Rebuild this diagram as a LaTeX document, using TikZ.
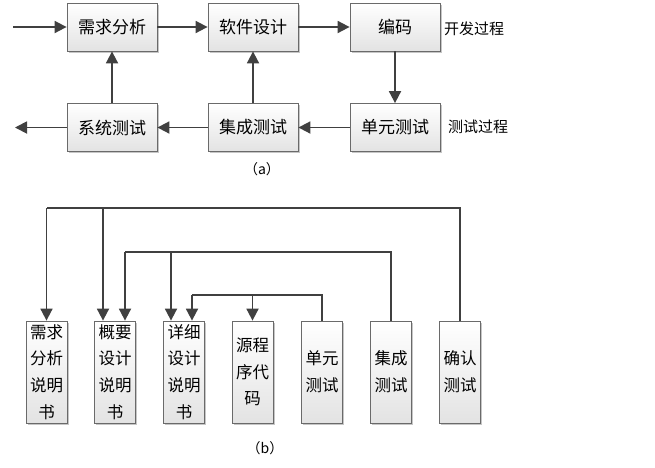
\documentclass[tikz,border=0pt]{standalone}
\usepackage{fontspec}
\setmainfont{Noto Sans CJK SC}
\usetikzlibrary{arrows.meta,shadows,calc}
\definecolor{linegray}{HTML}{404040}
\definecolor{boxgray}{HTML}{6A6A6A}
\tikzset{
  stagebox/.style={draw=boxgray,line width=0.8pt,top color=white,bottom color=gray!22,
    drop shadow={shadow xshift=1.5pt,shadow yshift=-1.5pt,fill=gray!45,opacity=1},
    minimum width=90pt,minimum height=48pt,inner sep=0pt,
    font=\fontsize{17}{20}\selectfont},
  docbox/.style={draw=boxgray,line width=0.8pt,top color=white,bottom color=gray!22,
    drop shadow={shadow xshift=1.5pt,shadow yshift=-1.5pt,fill=gray!45,opacity=1},
    minimum width=41pt,minimum height=102pt,inner sep=0pt,align=center,
    font=\fontsize{16.5}{26.7}\selectfont},
  flow/.style={draw=linegray,line width=1.8pt,-{Triangle[length=12pt,width=12pt]}},
  link/.style={draw=linegray,line width=1.8pt}
}
\begin{document}
\begin{tikzpicture}[x=1pt,y=-1pt]
	\useasboundingbox (0,0) rectangle (655,467);
	
	% (a) stages
	\node[stagebox] (req)  at (112,27)    {需求分析};
	\node[stagebox] (des)  at (253,27)    {软件设计};
	\node[stagebox] (code) at (395,27)    {编码};
	\node[stagebox] (sys)  at (112,127.5) {系统测试};
	\node[stagebox] (integ) at (253,127.5) {集成测试};
	\node[stagebox] (unit) at (395,127.5) {单元测试};
	\coordinate (in)  at (13,27);
	\coordinate (out) at (15,127.5);
	
	% (a) process labels
	\node[font=\fontsize{15}{18}\selectfont] (devlab)  at (474,29)  {开发过程};
	\node[font=\fontsize{15}{18}\selectfont] (testlab) at (478,127) {测试过程};
	\node[font=\fontsize{14}{18}\selectfont] (capa) at (262,169) {（a）};
	
	% (a) arrows
	\draw[flow] (in) -- (req);
	\draw[flow] (req) -- (des);
	\draw[flow] (des) -- (code);
	\draw[flow] (code) -- (unit);
	\draw[flow] (unit) -- (integ);
	\draw[flow] (integ) -- (sys);
	\draw[flow] (sys) -- (out);
	\draw[flow] (integ) -- (des);
	\draw[flow] (sys) -- (req);
	
	% (b) documents
	\node[docbox] (d1) at (46.5,372) {需求\\分析\\说明\\书};
	\node[docbox] (d2) at (115,372)  {概要\\设计\\说明\\书};
	\node[docbox] (d3) at (184,372)  {详细\\设计\\说明\\书};
	\node[docbox] (d4) at (252.5,372) {源程\\序代\\码};
	\node[docbox] (d5) at (322,372)  {单元\\测试};
	\node[docbox] (d6) at (391,372)  {集成\\测试};
	\node[docbox] (d7) at (460,372)  {确认\\测试};
	\node[font=\fontsize{14}{18}\selectfont] (capb) at (265,448) {（b）};
	
	% (b) top bus: acceptance test
	\coordinate (t7) at (d7.north |- 0,208);
	\coordinate (t1) at (d1.north |- 0,208);
	\coordinate (t2) at ($(d2.north)+(-12,0)$);
	\draw[link] (d7.north) -- (t7) -- (t1);
	\draw[flow] (t1) -- (d1.north);
	\draw[flow] (t2 |- t1) -- (t2);
	
	% (b) middle bus: integration test
	\coordinate (m6) at (d6.north |- 0,252);
	\coordinate (m2) at ($(d2.north)+(10,0)$);
	\coordinate (m3) at ($(d3.north)+(-13,0)$);
	\draw[link] (d6.north) -- (m6) -- (m2 |- m6);
	\draw[flow] (m2 |- m6) -- (m2);
	\draw[flow] (m3 |- m6) -- (m3);
	
	% (b) lower bus: unit test
	\coordinate (u5) at (d5.north |- 0,295);
	\coordinate (u3) at ($(d3.north)+(8,0)$);
	\draw[link] (d5.north) -- (u5) -- (u3 |- u5);
	\draw[flow] (u3 |- u5) -- (u3);
	\draw[flow] (d4.north |- u5) -- (d4.north);
\end{tikzpicture}
\end{document}
